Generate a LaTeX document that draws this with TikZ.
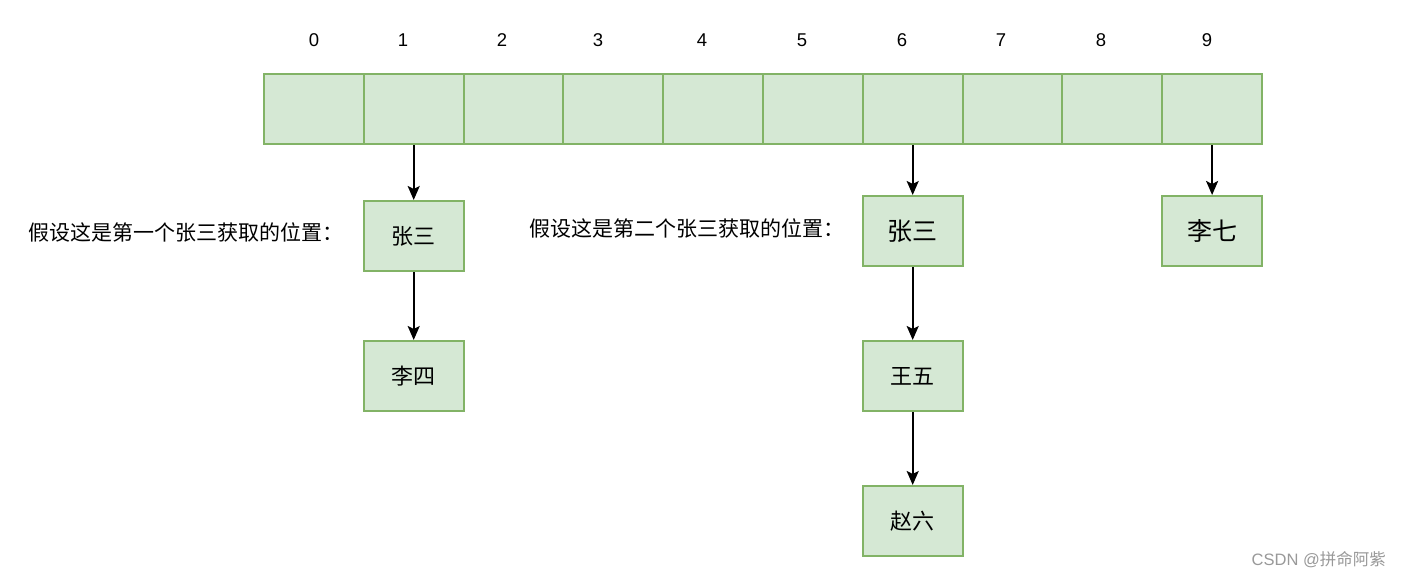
\documentclass[tikz,border=0pt]{standalone}
\usepackage{fontspec}
\setmainfont{Liberation Sans}
\newfontfamily\cjk{Noto Sans CJK SC}
\usetikzlibrary{arrows.meta}
\definecolor{boxfill}{HTML}{D5E8D4}
\definecolor{boxline}{HTML}{82B366}
\begin{document}
\begin{tikzpicture}[x=1pt,y=-1pt,
  cell/.style={draw=boxline,fill=boxfill,line width=2pt,minimum width=99.8pt,minimum height=70pt,inner sep=0pt,anchor=north west},
  item/.style={draw=boxline,fill=boxfill,line width=2pt,minimum width=99.8pt,minimum height=70pt,inner sep=0pt,font=\cjk\fontsize{22}{26}\selectfont},
  bigitem/.style={item,font=\cjk\fontsize{25}{29}\selectfont},
  idx/.style={font=\fontsize{18.5}{22}\selectfont,inner sep=0pt},
  lbl/.style={font=\cjk\fontsize{21}{25}\selectfont,inner sep=0pt,anchor=west},
  conn/.style={-{Stealth[length=14pt,width=12pt,inset=3pt]},line width=2pt,black}]
\useasboundingbox (0,0) rectangle (1401,578);
\fill[white] (0,0) rectangle (1401,578);
\foreach \i in {0,...,9}{
  \node[cell] (c\i) at ({263+99.8*\i},73) {};
}
\node[idx] (n0) at (314,40) {0};
\node[idx] (n1) at (403,40) {1};
\node[idx] (n2) at (502,40) {2};
\node[idx] (n3) at (598,40) {3};
\node[idx] (n4) at (702,40) {4};
\node[idx] (n5) at (802,40) {5};
\node[idx] (n6) at (902,40) {6};
\node[idx] (n7) at (1001,40) {7};
\node[idx] (n8) at (1101,40) {8};
\node[idx] (n9) at (1207,40) {9};

\node[item] (zs1) at (c1 |- 0,236) {张三};
\node[item] (ls) at (c1 |- 0,376) {李四};
\node[bigitem] (zs2) at (c6 |- 0,231) {张三};
\node[item] (ww) at (c6 |- 0,376) {王五};
\node[item] (zl) at (c6 |- 0,521) {赵六};
\node[bigitem] (lq) at (c9 |- 0,231) {李七};

\node[lbl] (t1) at (28,232) {假设这是第一个张三获取的位置：};
\node[lbl] (t2) at (529,228) {假设这是第二个张三获取的位置：};

\draw[conn] (c1.south) -- (zs1.north);
\draw[conn] (zs1.south) -- (ls.north);
\draw[conn] (c6.south) -- (zs2.north);
\draw[conn] (zs2.south) -- (ww.north);
\draw[conn] (ww.south) -- (zl.north);
\draw[conn] (c9.south) -- (lq.north);

\node[font=\fontsize{16.5}{18}\selectfont,text=black!40,anchor=east,inner sep=0pt] (wm) at (1386,560) {CSDN @{\cjk 拼命阿紫}};
\end{tikzpicture}
\end{document}
